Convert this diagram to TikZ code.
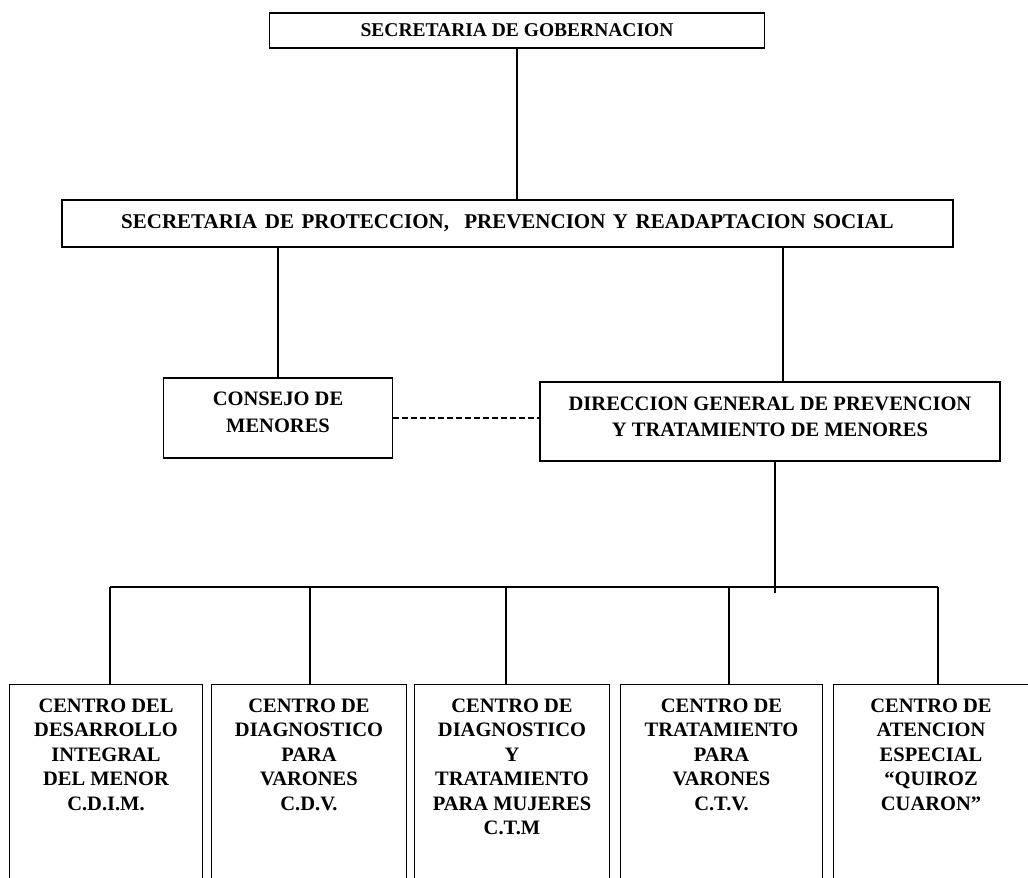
\documentclass[tikz,border=0pt]{standalone}
\usepackage{fontspec}
\setmainfont{Liberation Serif}
\begin{document}
\begin{tikzpicture}[x=1pt,y=-1pt,line width=1.2pt,
  box/.style={draw=black,rectangle,inner sep=0pt},
  openbox/.style={rectangle,inner sep=0pt},
  lbl/.style={font=\bfseries\fontsize{20.5}{27}\selectfont,align=center,inner sep=0pt},
  blbl/.style={font=\bfseries\fontsize{20.5}{24.5}\selectfont,align=center,inner sep=0pt,anchor=north},
  link/.style={draw=black,line width=1.2pt},
  dlink/.style={draw=black,line width=1.2pt,dash pattern=on 6pt off 3pt}]
\useasboundingbox (0,0) rectangle (1028,878);

% top levels
\node[box,minimum width=495pt,minimum height=35pt,font=\bfseries\fontsize{19.5}{24}\selectfont] (g) at (517,30.5) {SECRETARIA DE GOBERNACION};
\node[box,minimum width=891pt,minimum height=47pt,font=\bfseries\fontsize{21}{24}\selectfont] (s) at (507.5,223.5)
  {\spaceskip=0.36em plus 0.05em\relax SECRETARIA DE PROTECCION,\ \ PREVENCION Y READAPTACION SOCIAL};

% middle
\node[box,minimum width=229pt,minimum height=80pt] (c) at (278,418) {};
\node[lbl] (ct) at (278,412) {CONSEJO DE\\MENORES};
\node[box,minimum width=460pt,minimum height=79pt] (d) at (770,421.5) {};
\node[lbl,font=\bfseries\fontsize{20.5}{26.5}\selectfont] (dt) at (770,417) {DIRECCION GENERAL DE PREVENCION\\Y TRATAMIENTO DE MENORES};

% bottom boxes (cut by the page edge)
\node[openbox,minimum width=192pt,minimum height=193pt] (b1) at (106,781.5) {};
\node[openbox,minimum width=194pt,minimum height=193pt] (b2) at (309,781.5) {};
\node[openbox,minimum width=194pt,minimum height=193pt] (b3) at (512,781.5) {};
\node[openbox,minimum width=201pt,minimum height=193pt] (b4) at (721.5,781.5) {};
\node[openbox,minimum width=194pt,minimum height=193pt] (b5) at (931,781.5) {};

\draw (b1.south west) -- (b1.north west) -- (b1.north east) -- (b1.south east);
\draw (b2.south west) -- (b2.north west) -- (b2.north east) -- (b2.south east);
\draw (b3.south west) -- (b3.north west) -- (b3.north east) -- (b3.south east);
\draw (b4.south west) -- (b4.north west) -- (b4.north east) -- (b4.south east);
\draw (b5.south west) -- (b5.north west) -- (b5.north east);

\node[blbl] (t1) at (106,698) {CENTRO DEL\\DESARROLLO\\INTEGRAL\\DEL MENOR\\C.D.I.M.};
\node[blbl] (t2) at (309,698) {CENTRO DE\\DIAGNOSTICO\\PARA\\VARONES\\C.D.V.};
\node[blbl] (t3) at (512,698) {CENTRO DE\\DIAGNOSTICO\\Y\\TRATAMIENTO\\PARA MUJERES\\C.T.M};
\node[blbl] (t4) at (721.5,698) {CENTRO DE\\TRATAMIENTO\\PARA\\VARONES\\C.T.V.};
\node[blbl] (t5) at (931,698) {CENTRO DE\\ATENCION\\ESPECIAL\\“QUIROZ\\CUARON”};

% connectors
\draw[link] (g.south) -- (s.north -| g.south);
\draw[link] (s.south -| c.north) -- (c.north);
\draw[link] (s.south -| 783,0) -- (d.north -| 783,0);
\draw[dlink] (c.east) -- (c.east -| d.west);

\coordinate (j) at (775,593);
\coordinate (p1) at (110,587);
\coordinate (p2) at (310,587);
\coordinate (p3) at (506,587);
\coordinate (p4) at (729,587);
\coordinate (p5) at (938,587);
\draw[link] (d.south -| j) -- (j);
\draw[link] (p1) -- (p5);
\draw[link] (p1) -- (p1 |- b1.north);
\draw[link] (p2) -- (p2 |- b2.north);
\draw[link] (p3) -- (p3 |- b3.north);
\draw[link] (p4) -- (p4 |- b4.north);
\draw[link] (p5) -- (p5 |- b5.north);
\end{tikzpicture}
\end{document}
